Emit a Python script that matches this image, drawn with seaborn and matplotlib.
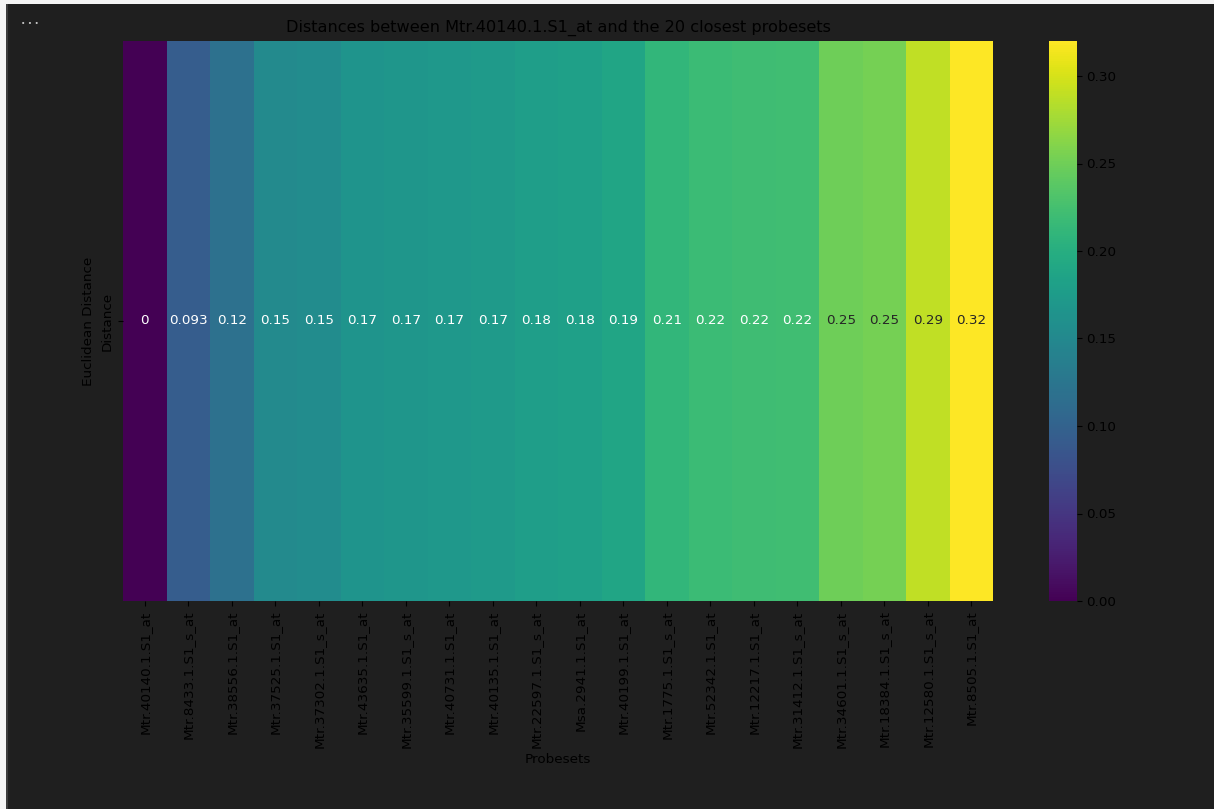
import matplotlib
matplotlib.use("Agg")
import matplotlib.pyplot as plt
from matplotlib.patches import Rectangle
import numpy as np
import pandas as pd
import seaborn as sns

# Probesets closest to Mtr.40140.1.S1_at, ordered by distance
probesets = [
    "Mtr.40140.1.S1_at", "Mtr.8433.1.S1_s_at", "Mtr.38556.1.S1_at",
    "Mtr.37525.1.S1_at", "Mtr.37302.1.S1_s_at", "Mtr.43635.1.S1_at",
    "Mtr.35599.1.S1_s_at", "Mtr.40731.1.S1_at", "Mtr.40135.1.S1_at",
    "Mtr.22597.1.S1_s_at", "Msa.2941.1.S1_at", "Mtr.40199.1.S1_at",
    "Mtr.1775.1.S1_s_at", "Mtr.52342.1.S1_at", "Mtr.12217.1.S1_at",
    "Mtr.31412.1.S1_s_at", "Mtr.34601.1.S1_s_at", "Mtr.18384.1.S1_s_at",
    "Mtr.12580.1.S1_s_at", "Mtr.8505.1.S1_at",
]
distances = [
    0.0, 0.093, 0.118, 0.152, 0.154, 0.166, 0.168, 0.171, 0.173, 0.178,
    0.181, 0.188, 0.211, 0.218, 0.220, 0.222, 0.249, 0.253, 0.290, 0.320,
]
row_labels = ["Distance"]

df = pd.DataFrame([distances], index=row_labels, columns=probesets)

DPI = 97
W, H = 1214, 809
fig = plt.figure(figsize=(W / DPI, H / DPI), dpi=DPI)
fig.patch.set_facecolor("#1f1f1f")

# thin light frame along the top and left edges
fig.patches.append(Rectangle((0, 1 - 4 / H), 1, 4 / H, transform=fig.transFigure,
                             facecolor="#f4f4f4", edgecolor="none", zorder=5))
fig.patches.append(Rectangle((0, 0), 6 / W, 1, transform=fig.transFigure,
                             facecolor="#f4f4f4", edgecolor="none", zorder=5))
fig.patches.append(Rectangle((6 / W, 0), 2 / W, 1 - 4 / H, transform=fig.transFigure,
                             facecolor="#3c3c3c", edgecolor="none", zorder=5))
fig.text(21 / W, 1 - 26 / H, "\u2022 \u2022 \u2022", color="#c8c8c8", fontsize=5.5)

ax = fig.add_axes([123 / W, 1 - 601 / H, (993 - 123) / W, (601 - 41) / H])
cax = fig.add_axes([1049 / W, 1 - 601 / H, (1077 - 1049) / W, (601 - 41) / H])

sns.heatmap(df, ax=ax, cbar_ax=cax, cmap="viridis", annot=True,
            vmin=0, vmax=max(distances))

ax.set_title("Distances between Mtr.40140.1.S1_at and the 20 closest probesets", pad=7)
ax.set_xlabel("Probesets")
ax.set_ylabel("Euclidean Distance")
plt.setp(ax.get_xticklabels(), rotation=90)
plt.setp(ax.get_yticklabels(), rotation=90, va="center")

fig.savefig("out.png", dpi=DPI, facecolor=fig.get_facecolor())
